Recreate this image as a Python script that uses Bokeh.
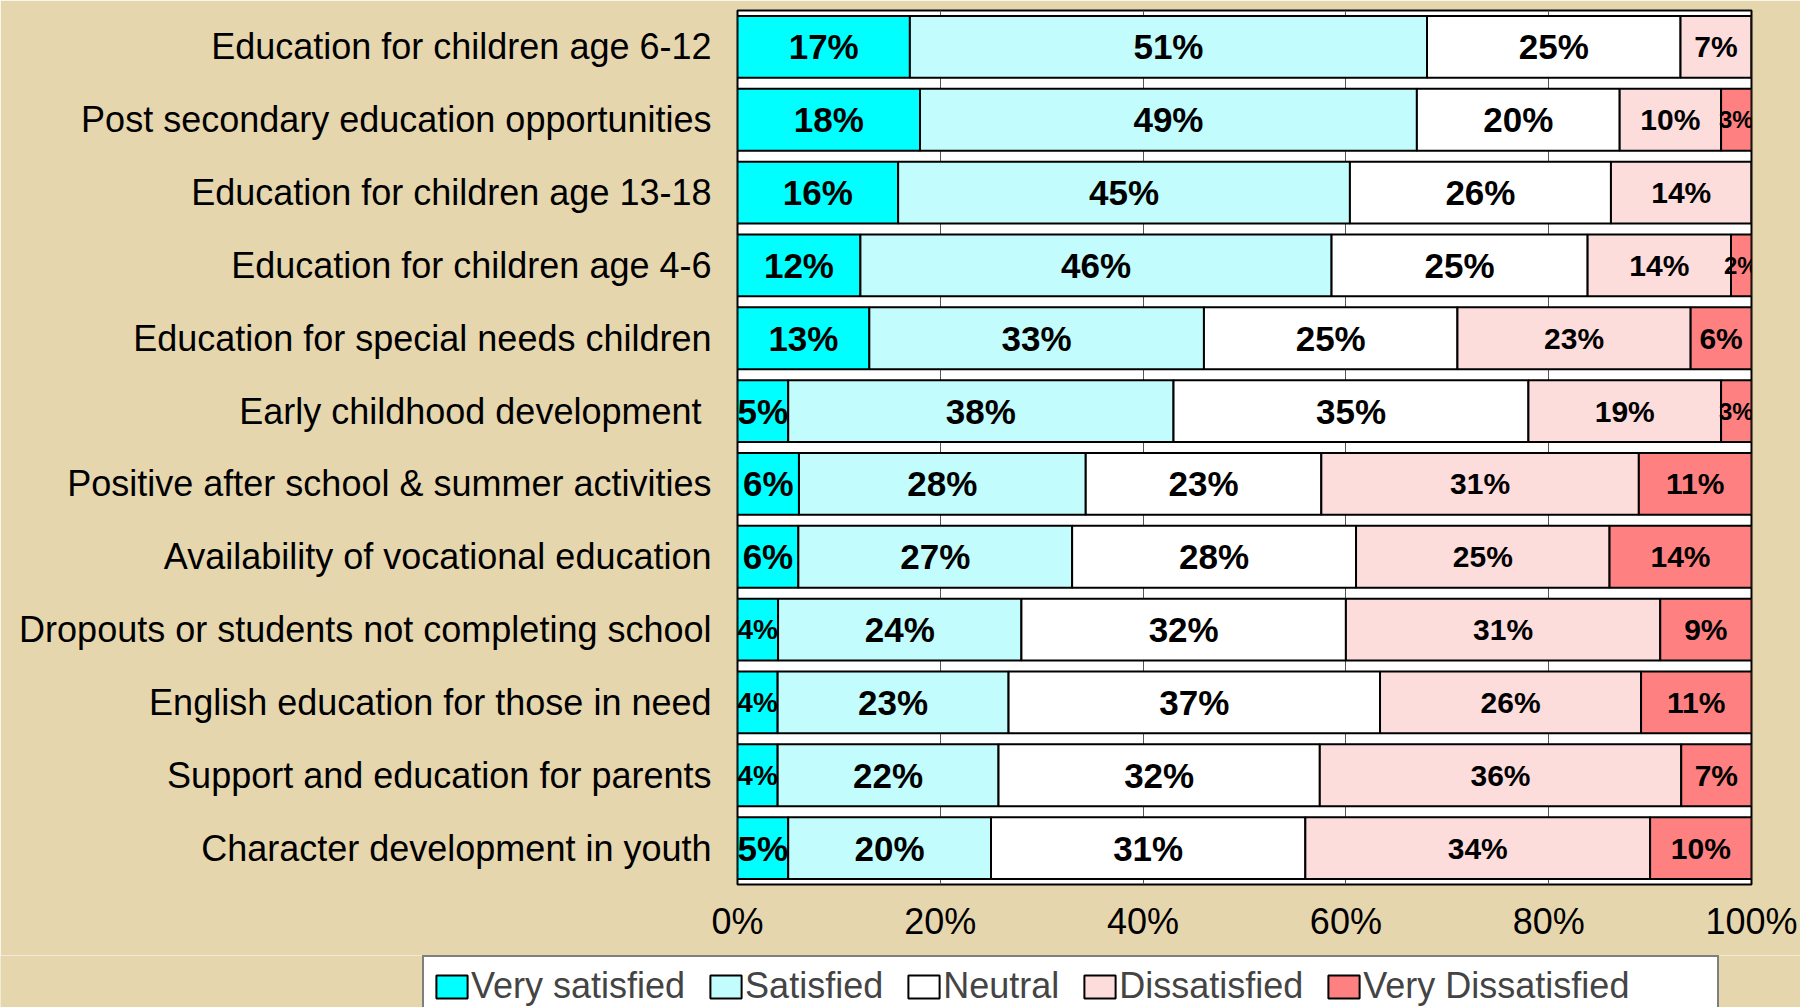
from bokeh.plotting import figure
from bokeh.layouts import column
from bokeh.models import (ColumnDataSource, FactorRange, Range1d, FixedTicker,
                          Legend, LegendItem)
from bokeh.core.properties import value
from bokeh.embed import file_html
from bokeh.resources import INLINE

categories = [
    "Education for children age 6-12",
    "Post secondary education opportunities",
    "Education for children age 13-18",
    "Education for children age 4-6",
    "Education for special needs children",
    "Early childhood development ",
    "Positive after school & summer activities",
    "Availability of vocational education",
    "Dropouts or students not completing school",
    "English education for those in need",
    "Support and education for parents",
    "Character development in youth",
]
very_satisfied = [17, 18, 16, 12, 13, 5, 6, 6, 4, 4, 4, 5]
satisfied = [51, 49, 45, 46, 33, 38, 28, 27, 24, 23, 22, 20]
neutral = [25, 20, 26, 25, 25, 35, 23, 28, 32, 37, 32, 31]
dissatisfied = [7, 10, 14, 14, 23, 19, 31, 25, 31, 26, 36, 34]
very_dissatisfied = [0, 3, 0, 2, 6, 3, 11, 14, 9, 11, 7, 10]

series_names = ["Very satisfied", "Satisfied", "Neutral", "Dissatisfied", "Very Dissatisfied"]
tick_values = [0, 20, 40, 60, 80, 100]
tick_labels = ["0%", "20%", "40%", "60%", "80%", "100%"]

colors = ["#00FFFF", "#C2FCFC", "#FFFFFF", "#FDDCDC", "#FF8080"]
label_base = [35, 35, 35, 30, 30]
FONT = "Liberation Sans"
BG = "#E6D6AE"

W = 1800
H_CHART, H_LEG = 955, 52
ML, MR, MT = 737, 49, 10
MB = H_CHART - 884
frame_w = W - ML - MR

p = figure(width=W, height=H_CHART, output_backend="svg", toolbar_location=None,
           y_range=FactorRange(factors=list(reversed(categories))),
           x_range=Range1d(0, 100),
           min_border_left=ML, min_border_right=MR, min_border_top=MT, min_border_bottom=MB)
p.frame_align = False
p.background_fill_color = "white"
p.border_fill_color = BG
p.outline_line_color = "black"
p.outline_line_width = 2

series = [very_satisfied, satisfied, neutral, dissatisfied, very_dissatisfied]
totals = [sum(vals) for vals in zip(*series)]

left = [0.0] * len(categories)
lx, ly, lt, ls = [], [], [], []
for k, (name, vals) in enumerate(zip(series_names, series)):
    norm = [v * 100.0 / t for v, t in zip(vals, totals)]
    right = [a + b for a, b in zip(left, norm)]
    src = ColumnDataSource(dict(y=categories, left=left, right=right))
    p.hbar(y="y", left="left", right="right", height=0.85, source=src,
           fill_color=colors[k], line_color="black", line_width=2)
    for c, v, a, b in zip(categories, vals, left, right):
        if v <= 0:
            continue
        wpx = (b - a) * frame_w / 100.0
        size = min(label_base[k], max(24, wpx / 1.45))
        lx.append((a + b) / 2)
        ly.append(c)
        lt.append(f"{v}%")
        ls.append(f"{size:.0f}px")
    left = right

lsrc = ColumnDataSource(dict(x=lx, y=ly, t=lt, s=ls))
p.text(x="x", y="y", text="t", source=lsrc, text_font=value(FONT),
       text_font_style="bold", text_font_size="s", text_align="center",
       text_baseline="middle", text_color="black")

# axes
p.xaxis.ticker = FixedTicker(ticks=tick_values)
p.xaxis.major_label_overrides = {t: l for t, l in zip(tick_values, tick_labels)}
p.xaxis.axis_line_color = None
p.xaxis.major_tick_line_color = None
p.xaxis.minor_tick_line_color = None
p.xaxis.major_tick_out = 0
p.xaxis.major_tick_in = 0
p.xaxis.major_label_standoff = 16
p.xaxis.major_label_text_font = FONT
p.xaxis.major_label_text_font_size = "36px"
p.xaxis.major_label_text_color = "black"

p.yaxis.axis_line_color = None
p.yaxis.major_tick_line_color = None
p.yaxis.major_tick_out = 0
p.yaxis.major_tick_in = 0
p.yaxis.major_label_standoff = 26
p.yaxis.major_label_text_font = FONT
p.yaxis.major_label_text_font_size = "36px"
p.yaxis.major_label_text_color = "black"

p.xgrid.ticker = FixedTicker(ticks=tick_values)
p.xgrid.grid_line_color = "#555555"
p.xgrid.grid_line_width = 1
p.ygrid.grid_line_color = None

# legend strip (separate figure directly under the chart)
q = figure(width=W, height=H_LEG, output_backend="svg", toolbar_location=None,
           x_range=Range1d(0, W), y_range=Range1d(0, H_LEG),
           x_axis_location=None, y_axis_location=None,
           min_border_left=0, min_border_right=0, min_border_top=0, min_border_bottom=0)
q.frame_align = False
q.background_fill_color = BG
q.border_fill_color = BG
q.outline_line_color = None
q.grid.grid_line_color = None

nan = float("nan")
proxy = ColumnDataSource(dict(y=[nan], left=[nan], right=[nan]))
leg_renderers = [q.hbar(y="y", left="left", right="right", height=1, source=proxy,
                        fill_color=c, line_color="black", line_width=2) for c in colors]
spacer = q.hbar(y="y", left="left", right="right", height=1, source=proxy,
                fill_alpha=0, line_alpha=0)

items = [LegendItem(label=n, renderers=[r]) for n, r in zip(series_names, leg_renderers)]
items.append(LegendItem(label="", renderers=[spacer]))
legend = Legend(items=items,
                orientation="horizontal", location=(422, -10),
                label_text_font=FONT, label_text_font_size="36px",
                glyph_width=39, glyph_height=29, label_standoff=0, spacing=21,
                padding=8, border_line_color="black", border_line_width=2,
                background_fill_color="white", background_fill_alpha=1.0,
                margin=0)
q.add_layout(legend, "center")

layout = column(p, q, spacing=0)
open("out.html", "w").write(file_html(layout, INLINE))
